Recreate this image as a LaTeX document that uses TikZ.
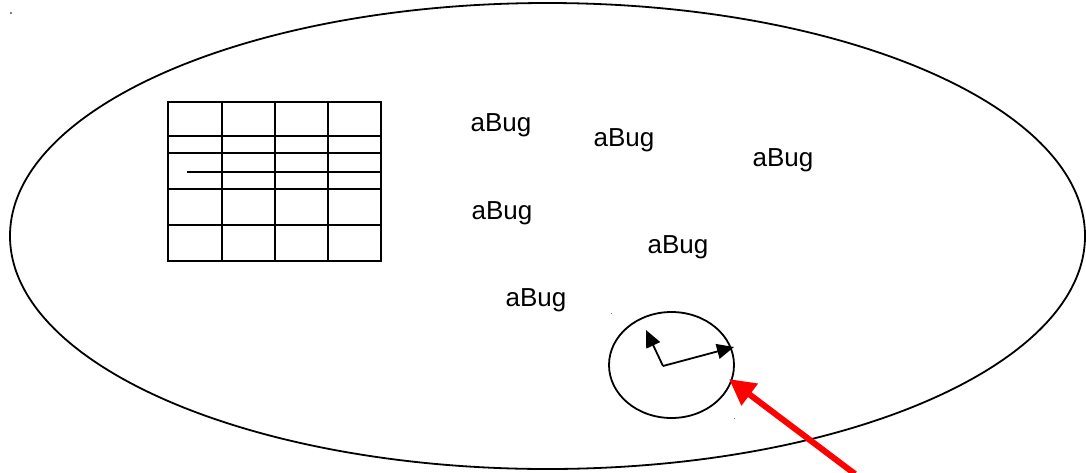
\documentclass[tikz,border=0pt]{standalone}
\usepackage{fontspec}
\setmainfont{Liberation Sans}
\usetikzlibrary{arrows.meta}
\begin{document}
\begin{tikzpicture}[x=1pt,y=-1pt,
  line/.style={line width=1.8pt},
  bug/.style={anchor=base,inner sep=0pt,font=\fontsize{26}{30}\selectfont},
  blk/.style={-{Triangle[length=17pt,width=15pt]},line width=1.8pt},
  redarrow/.style={-{Triangle[length=26pt,width=26pt]},line width=6pt,red}]
\useasboundingbox (0,0) rectangle (1086,472);
% outer ellipse
\draw[line] (547.5,236) ellipse [x radius=537.5, y radius=233];
% table
\draw[line] (168,102) rectangle (381,261);
\foreach \x in {222,275,328} \draw[line] (\x,102) -- (\x,261);
\foreach \y in {136,153,189,225} \draw[line] (168,\y) -- (381,\y);
\draw[line] (187,172) -- (381,172);
% texts
\node[bug] (b1) at (501,131) {aBug};
\node[bug] (b2) at (624,146) {aBug};
\node[bug] (b3) at (783,166) {aBug};
\node[bug] (b4) at (502,219) {aBug};
\node[bug] (b5) at (678,253) {aBug};
\node[bug] (b6) at (536,306) {aBug};
% circle
\draw[line] (671.5,365) ellipse [x radius=62.5, y radius=53];
\coordinate (o) at (663,366);
\coordinate (p1) at (646,330);
\coordinate (p2) at (734,347);
\draw[blk] (o) -- (p1);
\draw[blk] (o) -- (p2);
% red arrow
\coordinate (rs) at (855,474);
\coordinate (rt) at (729,379);
\draw[redarrow] (rs) -- (rt);
% tiny dots
\fill[gray] (10,12) rectangle (12,14);
\fill[gray] (610.5,312.5) rectangle (611.5,313.5);
\fill[gray] (733.5,417.5) rectangle (734.5,418.5);
\end{tikzpicture}
\end{document}
